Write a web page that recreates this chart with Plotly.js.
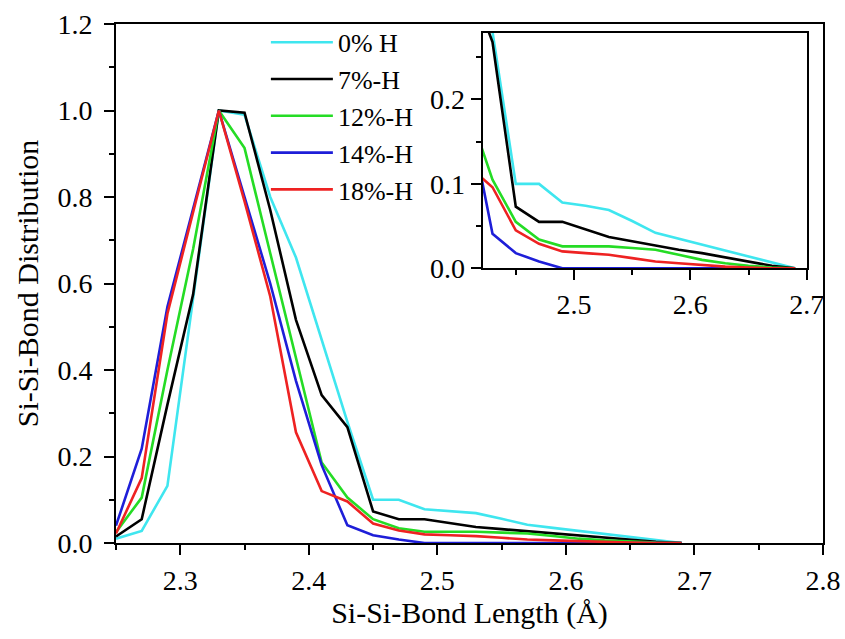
<!DOCTYPE html>
<html>
<head>
<meta charset="utf-8">
<script src="https://cdn.plot.ly/plotly-3.0.1.min.js"></script>
<style>html,body{margin:0;padding:0;background:#fff;}#chart{width:845px;height:639px;}</style>
</head>
<body>
<div id="chart"></div>
<script>
// Bond length (Å)
const bondLength = [2.25,2.27,2.29,2.31,2.33,2.35,2.37,2.39,2.41,2.43,2.45,2.47,2.49,2.51,2.53,2.55,2.57,2.59,2.61,2.63,2.65,2.67,2.69];
const seriesNames = ["0% H","7%-H","12%-H","14%-H","18%-H"];
const h0  = [0.010,0.028,0.132,0.570,1.000,0.990,0.800,0.660,0.470,0.280,0.100,0.100,0.078,0.074,0.069,0.056,0.042,0.035,0.028,0.021,0.014,0.007,0.000];
const h7  = [0.015,0.055,0.320,0.575,1.000,0.995,0.770,0.516,0.342,0.268,0.073,0.055,0.055,0.046,0.037,0.032,0.027,0.022,0.018,0.013,0.008,0.003,0.000];
const h12 = [0.025,0.105,0.400,0.680,1.000,0.913,0.670,0.430,0.186,0.105,0.055,0.034,0.026,0.026,0.026,0.024,0.022,0.016,0.010,0.006,0.003,0.001,0.000];
const h14 = [0.040,0.218,0.546,0.773,1.000,0.800,0.600,0.375,0.180,0.041,0.018,0.008,0.000,0.000,0.000,0.000,0.000,0.000,0.000,0.000,0.000,0.000,0.000];
const h18 = [0.022,0.150,0.530,0.765,1.000,0.790,0.570,0.256,0.120,0.096,0.045,0.029,0.020,0.018,0.016,0.012,0.008,0.006,0.004,0.002,0.001,0.000,0.000];
const seriesValues = [h0,h7,h12,h14,h18];
const colors = ["#3fe6ef","#000000","#25dc25","#1e1ed8","#ee2222"];

const FONT = "Liberation Serif";
const traces = [];
seriesValues.forEach((v,i)=>{
  traces.push({x:bondLength,y:v,type:"scatter",mode:"lines",name:seriesNames[i],
    line:{color:colors[i],width:2.6},xaxis:"x",yaxis:"y"});
});
seriesValues.forEach((v,i)=>{
  traces.push({x:bondLength,y:v,type:"scatter",mode:"lines",name:seriesNames[i],showlegend:false,
    line:{color:colors[i],width:2.6},xaxis:"x2",yaxis:"y2"});
});

function ax(extra){
  return Object.assign({showgrid:false,zeroline:false,showline:true,linecolor:"#000",linewidth:2,mirror:true,
    ticks:"outside",ticklen:10,tickwidth:2,tickcolor:"#000",
    tickfont:{family:FONT,size:28,color:"#000"}},extra);
}
function minor(d){ return {dtick:d,ticks:"outside",ticklen:5,tickwidth:2,tickcolor:"#000"}; }

const layout = {
  width:845,height:639,
  font:{family:FONT,size:28,color:"#000"},
  margin:{l:116,r:22,t:24,b:96},
  paper_bgcolor:"#fff",plot_bgcolor:"#fff",
  showlegend:true,
  legend:{x:0.212,y:1.01,xanchor:"left",yanchor:"top",bgcolor:"rgba(0,0,0,0)",borderwidth:0,
    font:{family:FONT,size:26,color:"#000"},itemwidth:62},
  xaxis:ax({range:[2.25,2.8],tick0:2.3,dtick:0.1,tickformat:".1f",minor:minor(0.05),
    ticklabelstandoff:1,
    title:{text:"Si-Si-Bond Length (Å)",font:{family:FONT,size:30,color:"#000"},standoff:0}}),
  yaxis:ax({range:[0,1.2],tick0:0,dtick:0.2,tickformat:".1f",minor:minor(0.1),
    ticklabelstandoff:6,
    title:{text:"Si-Si-Bond Distribution",font:{family:FONT,size:30,color:"#000"},standoff:10}}),
  xaxis2:ax({domain:[0.5187,0.977],anchor:"y2",range:[2.4216,2.7],tick0:2.5,dtick:0.1,tickformat:".1f",minor:minor(0.05)}),
  yaxis2:ax({domain:[0.5293,0.9832],anchor:"x2",range:[0,0.279],tick0:0,dtick:0.1,tickformat:".1f",minor:minor(0.05)})
};

Plotly.newPlot("chart",traces,layout,{displayModeBar:false,staticPlot:true});
</script>
</body>
</html>
